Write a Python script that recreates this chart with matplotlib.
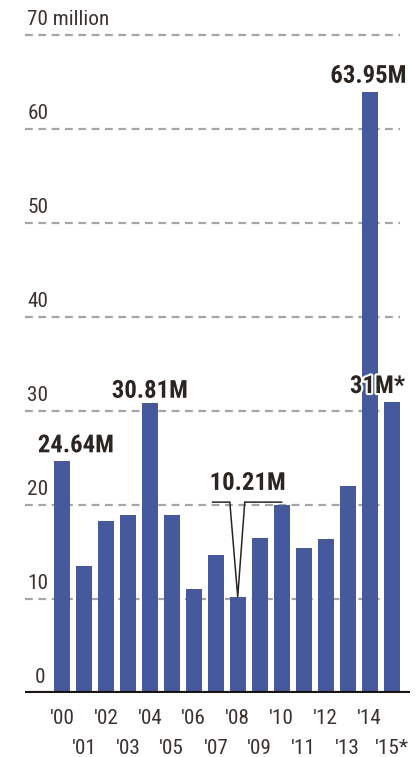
import matplotlib
matplotlib.use('Agg')

import matplotlib.pyplot as plt
import matplotlib.patheffects as pe
from matplotlib import font_manager

# datos del grafico (millones)
years = ["'00", "'01", "'02", "'03", "'04", "'05", "'06", "'07",
         "'08", "'09", "'10", "'11", "'12", "'13", "'14", "'15*"]
values = [24.64, 13.5, 18.3, 18.9, 30.81, 18.9, 11.1, 14.7,
          10.21, 16.5, 20.0, 15.4, 16.4, 22.0, 63.95, 31.0]
grid_levels = [10, 20, 30, 40, 50, 60, 70]
grid_labels = ['10', '20', '30', '40', '50', '60', '70 million']

# buscar una fuente estrecha si existe
entries = font_manager.fontManager.ttflist
family, stretch = 'DejaVu Sans', 'normal'
for cand in ['Liberation Sans Narrow', 'Roboto Condensed', 'Open Sans Condensed',
             'Noto Sans Condensed', 'DejaVu Sans Condensed']:
    if any(e.name == cand for e in entries):
        family = cand
        break
else:
    cond = [e for e in entries if str(e.stretch) in ('condensed', 'semi-condensed', '75', '87')]
    if cond:
        family, stretch = cond[0].name, 'condensed'
plt.rcParams['font.family'] = [family, 'DejaVu Sans']
plt.rcParams['font.stretch'] = stretch

W, H = 416, 757
fig = plt.figure(figsize=(W / 100, H / 100), dpi=100)
renderer = fig.canvas.get_renderer()


def fit_size(text, target_px, base, weight='normal'):
    t = fig.text(0, 0, text, fontsize=base, fontweight=weight)
    w = t.get_window_extent(renderer).width
    t.remove()
    return min(base, base * target_px / w)


bold_size = fit_size('24.64M', 76, 21, 'bold')
reg_size = fit_size('60', 21, 17)

# ejes colocados en pixeles: cero en y=693, 70 en y=35
ax = fig.add_axes([25 / W, (H - 693) / H, (410 - 25) / W, (693 - 16) / H])
px_per_bar = 22.0
x0 = -(62 - 25) / px_per_bar
x1 = 15 + (410 - 391.5) / px_per_bar
ax.set_xlim(x0, x1)
ax.set_ylim(0, 72)
ax.axis('off')

bar_color = '#46599d'
text_color = '#2b2521'
tick_color = '#3a3330'
grid_right = 15 + (400 - 391.5) / px_per_bar

xs = list(range(len(years)))

# lineas guia
ax.hlines(grid_levels, x0, grid_right, colors='#a5a5a5', linestyles=(0, (3.5, 2.5)),
          linewidth=1.6, zorder=1)
for lvl, lab in zip(grid_levels, grid_labels):
    ax.text(x0 + 0.1, lvl + 0.6, lab, fontsize=reg_size, color=tick_color,
            ha='left', va='bottom', zorder=2)
ax.text(x0 + 0.45, 0.6, '0', fontsize=reg_size, color=tick_color,
        ha='left', va='bottom', zorder=4)

ax.bar(xs, values, width=0.73, color=bar_color, zorder=3)
ax.axhline(0, color='#1a1512', linewidth=3, zorder=5)

# etiquetas del eje x en dos filas
for i, lab in enumerate(years):
    yrow = -2.7 if i % 2 == 0 else -5.9
    ax.text(i, yrow, lab, fontsize=reg_size, color=tick_color, ha='center',
            va='center', clip_on=False)

halo = [pe.withStroke(linewidth=3, foreground='white')]
labels = [(0.64, 25.6, '24.64M'), (4, 31.4, '30.81M'), (13.95, 64.9, '63.95M'),
          (14.36, 31.9, '31M*'), (8.45, 21.6, '10.21M')]
for x, y, t in labels:
    ax.text(x, y, t, fontsize=bold_size, fontweight='bold', color=text_color,
            ha='center', va='baseline', zorder=6, path_effects=halo)

# llamada para el minimo de 2008
i08 = years.index("'08")
ax.plot([i08 - 1.14, i08 - 0.36, i08, i08 + 0.32, i08 + 2.0],
        [20.3, 20.3, values[i08], 20.3, 20.3], color=text_color,
        linewidth=1.1, zorder=6, solid_joinstyle='miter')

fig.savefig('out.png', dpi=100)
